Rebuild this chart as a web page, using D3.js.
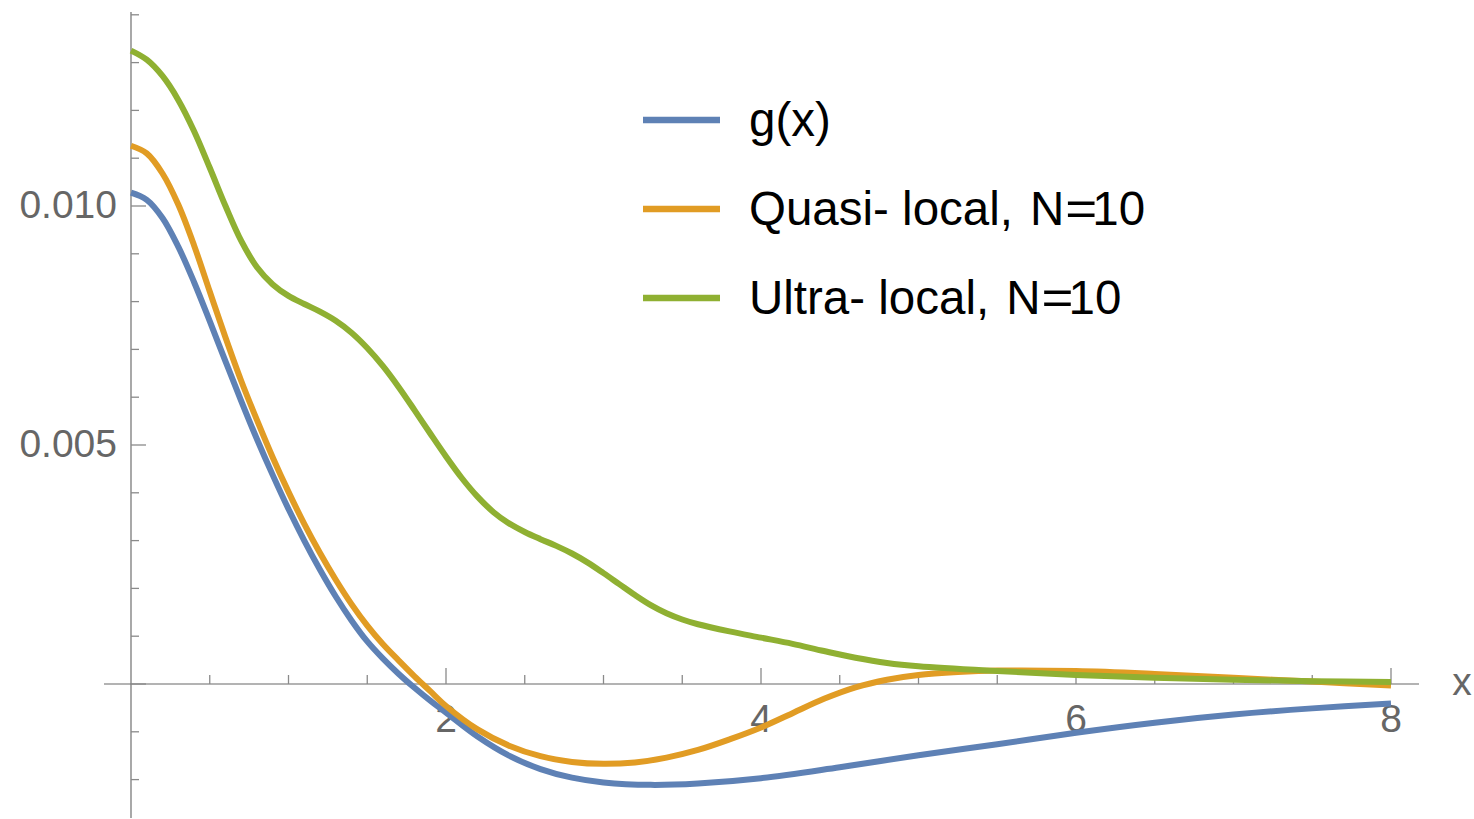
<!DOCTYPE html>
<html>
<head>
<meta charset="utf-8">
<script src="https://cdn.jsdelivr.net/npm/d3@7"></script>
<style>
  html, body { margin: 0; padding: 0; background: #ffffff; }
  svg { display: block; }
</style>
</head>
<body>
<svg id="chart" width="1474" height="819"></svg>
<script>
// ---- data ----
const gX = [0, 0.1, 0.2, 0.3, 0.4, 0.5, 0.6, 0.7, 0.8, 0.9, 1.0, 1.1, 1.2, 1.3, 1.4, 1.5, 1.6, 1.7, 1.8, 1.9,
            2.0, 2.2, 2.4, 2.6, 2.8, 3.0, 3.3, 3.6, 4.0, 4.5, 5.0, 5.5, 6.0, 6.5, 7.0, 7.5, 8.0];
const gValues = [0.01028, 0.01013, 0.00975, 0.00915, 0.00841, 0.00759, 0.00675, 0.00592, 0.00512, 0.00437,
                 0.00366, 0.00300, 0.00239, 0.00183, 0.00133, 0.00089, 0.00053, 0.00021, -0.00008, -0.00035,
                 -0.00060, -0.00110, -0.00150, -0.00178, -0.00196, -0.00206, -0.00211, -0.00208, -0.00197,
                 -0.00174, -0.00149, -0.00126, -0.00102, -0.00081, -0.00064, -0.00051, -0.00041];

const quasiX = [0, 0.1, 0.2, 0.3, 0.4, 0.5, 0.6, 0.7, 0.8, 0.9, 1.0, 1.1, 1.2, 1.3, 1.4, 1.5, 1.6, 1.7, 1.8, 1.9,
                2.0, 2.2, 2.4, 2.6, 2.8, 3.0, 3.2, 3.4, 3.6, 3.8, 4.0, 4.2, 4.4, 4.6, 4.8, 5.0, 5.25, 5.5, 6.0,
                6.5, 7.0, 7.5, 8.0];
const quasiValues = [0.01126, 0.01110, 0.01068, 0.01003, 0.00918, 0.00821, 0.00725, 0.00634, 0.00552, 0.00474,
                     0.00402, 0.00335, 0.00274, 0.00218, 0.00167, 0.00122, 0.00083, 0.00049, 0.00016, -0.00015,
                     -0.00046, -0.00095, -0.00129, -0.00151, -0.00163, -0.00167, -0.00164, -0.00154, -0.00138,
                     -0.00116, -0.00091, -0.00061, -0.00031, -0.00007, 0.00009, 0.00019, 0.00025, 0.00028,
                     0.00027, 0.00021, 0.00013, 0.00005, -0.00003];

const ultraX = [0, 0.1, 0.2, 0.3, 0.4, 0.5, 0.6, 0.7, 0.8, 0.9, 1.0, 1.1, 1.2, 1.3, 1.4, 1.5, 1.6, 1.7, 1.8, 1.9,
                2.0, 2.1, 2.2, 2.3, 2.4, 2.5, 2.6, 2.7, 2.8, 2.9, 3.0, 3.1, 3.2, 3.3, 3.4, 3.5, 3.6, 3.8, 4.0,
                4.2, 4.4, 4.6, 4.8, 5.0, 5.5, 6.0, 6.5, 7.0, 7.5, 8.0];
const ultraValues = [0.01325, 0.01306, 0.01272, 0.01222, 0.01157, 0.01080, 0.01000, 0.00927, 0.00872, 0.00836,
                     0.00812, 0.00795, 0.00779, 0.00760, 0.00735, 0.00703, 0.00665, 0.00621, 0.00573, 0.00524,
                     0.00476, 0.00431, 0.00392, 0.00360, 0.00336, 0.00318, 0.00303, 0.00289, 0.00273, 0.00254,
                     0.00232, 0.00209, 0.00186, 0.00165, 0.00148, 0.00135, 0.00125, 0.00110, 0.00097,
                     0.00084, 0.00069, 0.00055, 0.00044, 0.00037, 0.00027, 0.00019, 0.00013, 0.00009, 0.00006, 0.00004];

const seriesNames = ["g(x)", "Quasi- local,", "Ultra- local,"];
const seriesSuffix = ["", "N=10", "N=10"];
const seriesColors = ["#5E81B5", "#E19C24", "#8FB032"];

const xMajorTicks = [2, 4, 6, 8];
const xMinorTicks = [0.5, 1, 1.5, 2.5, 3, 3.5, 4.5, 5, 5.5, 6.5, 7, 7.5];
const yMajorTicks = [0, 0.005, 0.010];
const yTickLabels = ["", "0.005", "0.010"];
const yMinorTicks = [-0.003, -0.002, -0.001, 0.001, 0.002, 0.003, 0.004, 0.006, 0.007, 0.008, 0.009,
                     0.011, 0.012, 0.013, 0.014];

// ---- layout ----
const svg = d3.select("#chart");
const x = d3.scaleLinear().domain([0, 8]).range([131, 1391]);
const y = d3.scaleLinear().domain([0, 0.01]).range([684, 206]);

const axisColor = "#8a8a8a";
const labelColor = "#666666";
const fontFamily = "'Liberation Sans', Arial, Helvetica, sans-serif";

// x axis line
svg.append("line")
  .attr("x1", 104).attr("x2", 1419)
  .attr("y1", y(0)).attr("y2", y(0))
  .attr("stroke", "#9a9a9a").attr("stroke-width", 1.3);

// y axis line
svg.append("line")
  .attr("x1", x(0)).attr("x2", x(0))
  .attr("y1", 12).attr("y2", 818)
  .attr("stroke", "#7a7a7a").attr("stroke-width", 1.3);

// x ticks
const gx = svg.append("g");
gx.selectAll("line.major").data(xMajorTicks).join("line")
  .attr("class", "major")
  .attr("x1", d => x(d)).attr("x2", d => x(d))
  .attr("y1", y(0)).attr("y2", y(0) - 16)
  .attr("stroke", axisColor).attr("stroke-width", 1.3);
gx.selectAll("line.minor").data(xMinorTicks).join("line")
  .attr("class", "minor")
  .attr("x1", d => x(d)).attr("x2", d => x(d))
  .attr("y1", y(0)).attr("y2", y(0) - 9)
  .attr("stroke", axisColor).attr("stroke-width", 1.3);

// y ticks
const gy = svg.append("g");
gy.selectAll("line.major").data(yMajorTicks).join("line")
  .attr("class", "major")
  .attr("x1", x(0)).attr("x2", x(0) + 15)
  .attr("y1", d => y(d)).attr("y2", d => y(d))
  .attr("stroke", axisColor).attr("stroke-width", 1.3);
gy.selectAll("line.minor").data(yMinorTicks).join("line")
  .attr("class", "minor")
  .attr("x1", x(0)).attr("x2", x(0) + 8)
  .attr("y1", d => y(d)).attr("y2", d => y(d))
  .attr("stroke", axisColor).attr("stroke-width", 1.3);

// tick labels
svg.append("g").selectAll("text").data(xMajorTicks).join("text")
  .attr("x", d => x(d)).attr("y", y(0) + 48)
  .attr("text-anchor", "middle")
  .attr("font-family", fontFamily).attr("font-size", 39)
  .attr("fill", labelColor)
  .text(d => String(d));

svg.append("g").selectAll("text").data(yMajorTicks).join("text")
  .attr("x", 117).attr("y", d => y(d) + 12)
  .attr("text-anchor", "end")
  .attr("font-family", fontFamily).attr("font-size", 39)
  .attr("fill", labelColor)
  .text((d, i) => yTickLabels[i]);

// axis label
svg.append("text")
  .attr("x", 1462).attr("y", y(0) + 11)
  .attr("text-anchor", "middle")
  .attr("font-family", fontFamily).attr("font-size", 39)
  .attr("fill", labelColor)
  .text("x");

// curves
const line = d3.line().x(d => x(d[0])).y(d => y(d[1])).curve(d3.curveCatmullRom.alpha(0.5));
const seriesData = [
  d3.zip(gX, gValues),
  d3.zip(quasiX, quasiValues),
  d3.zip(ultraX, ultraValues)
];
svg.append("g").selectAll("path").data(seriesData).join("path")
  .attr("d", d => line(d))
  .attr("fill", "none")
  .attr("stroke", (d, i) => seriesColors[i])
  .attr("stroke-width", 6)
  .attr("stroke-linejoin", "round");

// legend
const legendY = [120, 209, 298];
const lg = svg.append("g");
lg.selectAll("line").data(seriesNames).join("line")
  .attr("x1", 643).attr("x2", 720)
  .attr("y1", (d, i) => legendY[i]).attr("y2", (d, i) => legendY[i])
  .attr("stroke", (d, i) => seriesColors[i])
  .attr("stroke-width", 6.5);
const lt = lg.selectAll("text").data(seriesNames).join("text")
  .attr("x", 749).attr("y", (d, i) => legendY[i] + 16)
  .attr("font-family", fontFamily).attr("font-size", 47.5)
  .attr("fill", "#000000");
lt.append("tspan").text(d => d);
lt.filter((d, i) => seriesSuffix[i] !== "").each(function() {
  const t = d3.select(this);
  t.append("tspan").attr("dx", 17).text("N");
  t.append("tspan").attr("dx", 1).attr("textLength", 32).attr("lengthAdjust", "spacingAndGlyphs").text("=");
  t.append("tspan").attr("dx", -5).text("10");
});
</script>
</body>
</html>
